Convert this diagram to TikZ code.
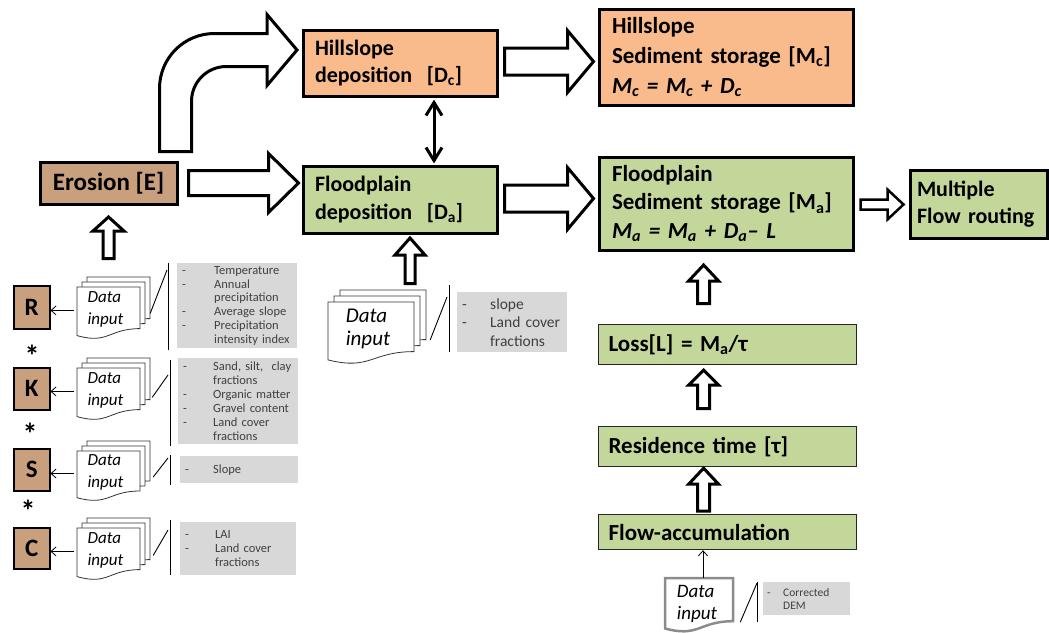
\documentclass[tikz,border=0pt]{standalone}
\usepackage{fontspec}
\setmainfont{Carlito}
\usetikzlibrary{arrows.meta,calc}

\definecolor{hillorange}{HTML}{F9BB8C}
\definecolor{floodgreen}{HTML}{C4D79B}
\definecolor{erobrown}{HTML}{C8A07E}
\definecolor{listgrey}{HTML}{D8D8D8}
\definecolor{docgrey}{HTML}{8C8C8C}

\newlength\listgap
\newcommand{\ditem}[1]{\makebox[\listgap][l]{-}\mbox{#1}}
\newcommand{\citem}[1]{\hspace*{\listgap}\mbox{#1}}

% document sheet: x, y (top left), width, height
\newcommand{\docshape}[5][]{%
  \filldraw[docline,#1] ({#2},{#3}) -- ({#2+#4},{#3}) -- ({#2+#4},{#3+0.8*#5})
    .. controls ({#2+0.5*#4},{#3+0.8*#5}) and ({#2+0.5*#4},{#3+1.107*#5}) .. ({#2},{#3+0.934*#5}) -- cycle;}

% three stacked sheets with "Data input": name, x, y, width, height, shift
\newcommand{\docstack}[7][\fontsize{17}{22}\selectfont]{%
  \docshape{#3+2*#7}{#4-2*#7}{#5}{#6}
  \docshape{#3+#7}{#4-#7}{#5}{#6}
  \docshape{#3}{#4}{#5}{#6}
  \node[inner sep=0pt, minimum width=#5pt, minimum height={0.9*#6}] (#2) at ({#3+#5/2},{#4+0.45*#6}) {};
  \node[doctext, font=\itshape#1] (#2text) at ($(#2)+(-3,-1)$) {Data\\input};}

% block arrows: start, tip, shaft half width, head half width, head length
\newcommand{\rblock}[6][]{%
  \draw[blockarr,#1] let \p1=(#2), \p2=(#3) in
    (\x1,\y1+#4) -- (\x2-#6,\y1+#4) -- (\x2-#6,\y1+#5) -- (\x2,\y1)
    -- (\x2-#6,\y1-#5) -- (\x2-#6,\y1-#4) -- (\x1,\y1-#4) -- cycle;}
\newcommand{\ublock}[6][]{%
  \draw[blockarr,#1] let \p1=(#2), \p2=(#3) in
    (\x1-#4,\y1) -- (\x1-#4,\y2-#6) -- (\x1-#5,\y2-#6) -- (\x1,\y2)
    -- (\x1+#5,\y2-#6) -- (\x1+#4,\y2-#6) -- (\x1+#4,\y1) -- cycle;}

\begin{document}
\begin{tikzpicture}[x=1pt,y=-1pt,
  mainbox/.style={draw, line width=3pt, anchor=north west, align=left, inner xsep=12pt,
    font=\bfseries\fontsize{23}{30}\selectfont},
  lowbox/.style={draw=black!85, line width=1.2pt, fill=floodgreen, anchor=north west, align=left,
    inner xsep=10pt, minimum width=258pt, text width=238pt, font=\bfseries\fontsize{23}{28}\selectfont},
  letterbox/.style={draw, line width=1.5pt, fill=erobrown, anchor=north west, minimum width=36pt,
    minimum height=42pt, inner sep=0pt, font=\bfseries\fontsize{25}{25}\selectfont},
  greylist/.style={fill=listgrey, anchor=north west, align=left, inner xsep=5pt, inner ysep=0pt, text=black!75},
  docline/.style={draw=black!80, line width=0.8pt, fill=white},
  doctext/.style={align=left, inner sep=0pt},
  blockarr/.style={draw, line width=3pt, fill=white, line join=miter, miter limit=20},
  thinarr/.style={-{Straight Barb[length=5pt,width=9pt]}, line width=0.8pt},
  dblline/.style={draw, line width=3pt, line join=miter},
  callout/.style={line width=0.9pt},
  star/.style={inner sep=0pt, font=\bfseries\fontsize{30}{30}\selectfont}
]
\useasboundingbox (0,0) rectangle (1049,632);

% main boxes
\node[mainbox, fill=hillorange, minimum width=194pt, minimum height=66pt, text width=170pt,
  font=\bfseries\fontsize{22}{27.5}\selectfont] (hdep) at (301.5,28.5) {Hillslope\\deposition\ \ [D\textsubscript{c}]};
\node[mainbox, fill=floodgreen, minimum width=194pt, minimum height=67pt, text width=170pt,
  font=\bfseries\fontsize{22}{27.5}\selectfont] (fdep) at (301.5,164.5) {Floodplain\\deposition\ \ [D\textsubscript{a}]};
\node[mainbox, fill=erobrown, minimum width=137pt, minimum height=42pt, align=center, inner xsep=0pt,
  font=\bfseries\fontsize{25}{25}\selectfont] (ero) at (38.5,160.5) {Erosion [E]};
\node[mainbox, fill=hillorange, minimum width=254pt, minimum height=96pt, text width=228pt, inner xsep=13pt]
  (hsto) at (597.5,7.5) {Hillslope\\Sediment storage [M\textsubscript{c}]\\\textit{M\textsubscript{c} = M\textsubscript{c} + D\textsubscript{c}}};
\node[mainbox, fill=floodgreen, minimum width=254pt, minimum height=93pt, text width=228pt, inner xsep=13pt,
  font=\bfseries\fontsize{23}{28.5}\selectfont] (fsto) at (597.5,155.5)
  {Floodplain\\Sediment storage [M\textsubscript{a}]\\\textit{M\textsubscript{a} = M\textsubscript{a} + D\textsubscript{a}– L}};
\node[mainbox, fill=floodgreen, minimum width=137pt, minimum height=68pt, text width=123pt, inner xsep=7pt,
  font=\bfseries\fontsize{22}{27}\selectfont] (mfr) at (908.5,168.5) {Multiple\\\mbox{Flow routing}};

% residence time chain
\node[lowbox, minimum height=40pt] (loss) at (598,324) {Loss[L] = M\textsubscript{a}/τ};
\node[lowbox, minimum height=40pt] (res) at (598,426) {Residence time [τ]};
\node[lowbox, minimum height=35pt] (flow) at (598,514) {Flow-accumulation};

% factor boxes
\node[letterbox, minimum height=43pt] (rbox) at (13,285) {R};
\node[letterbox] (kbox) at (13,367) {K};
\node[letterbox] (sbox) at (13,448) {S};
\node[letterbox, minimum height=41pt] (cbox) at (13,527) {C};
\node[star] (ast1) at (32,356) {*};
\node[star] (ast2) at (30,434) {*};
\node[star] (ast3) at (28,511) {*};

% data inputs
\docstack{rdoc}{77}{287}{63}{52}{5}
\docstack{kdoc}{77}{368}{63}{52}{5}
\docstack{sdoc}{77}{451}{63}{50}{5}
\docstack{cdoc}{77}{528}{63}{52}{5}
\docstack[\fontsize{21}{23}\selectfont]{ddoc}{328}{302}{86}{62}{6}
\docshape[draw=docgrey, line width=2.5pt]{665}{578}{68}{54}
\node[inner sep=0pt, minimum width=68pt, minimum height=48pt] (fdoc) at (699,602.3) {};
\node[doctext, font=\itshape\fontsize{19}{22}\selectfont] (fdoctext) at ($(fdoc)+(-2,2)$) {Data\\input};

% lists
\node[greylist, minimum width=120pt, minimum height=85pt, text width=110pt,
  font=\fontsize{12.5}{13.8}\selectfont\setlength\listgap{32pt}] (rlist) at (177,263)
  {\ditem{Temperature}\\\ditem{Annual}\\\citem{precipitation}\\\ditem{Average slope}\\\ditem{Precipitation}\\\citem{intensity index}};
\node[greylist, minimum width=120pt, minimum height=86pt, text width=110pt,
  font=\fontsize{12.5}{14}\selectfont\setlength\listgap{30pt}] (klist) at (178,358)
  {\ditem{Sand, silt,\ \ clay}\\\citem{fractions}\\\ditem{Organic matter}\\\ditem{Gravel content}\\\ditem{Land cover}\\\citem{fractions}};
\node[greylist, minimum width=118pt, minimum height=27pt, text width=108pt,
  font=\fontsize{12.5}{14}\selectfont\setlength\listgap{28pt}] (slist) at (180,456) {\ditem{Slope}};
\node[greylist, minimum width=116pt, minimum height=53pt, text width=106pt,
  font=\fontsize{12.5}{14}\selectfont\setlength\listgap{30pt}] (clist) at (180,522)
  {\ditem{LAI}\\\ditem{Land cover}\\\citem{fractions}};
\node[greylist, minimum width=110pt, minimum height=60pt, text width=100pt, inner xsep=5pt,
  font=\fontsize{15.5}{18.5}\selectfont\setlength\listgap{28pt}] (dlist) at (457,292)
  {\ditem{slope}\\\ditem{Land cover}\\\citem{fractions}};
\node[greylist, minimum width=87pt, minimum height=33pt, text width=79pt, inner xsep=4pt,
  font=\fontsize{11.5}{13}\selectfont\setlength\listgap{16pt}] (flist) at (763,582)
  {\ditem{Corrected}\\\citem{DEM}};

% callout brackets
\draw[callout] ($(rlist.north west)+(-9,0)$) -- ($(rlist.south west)+(-9,2)$);
\draw[callout] ($(rdoc.east)+(10,3)$) -- ($(rlist.north west)+(-10,7)$);
\draw[callout] ($(klist.north west)+(-8,2)$) -- ($(klist.south west)+(-8,2)$);
\draw[callout] ($(kdoc.east)+(12,6)$) -- ($(klist.north west)+(-10,17)$);
\draw[callout] ($(slist.north west)+(-10,-1)$) -- ($(slist.south west)+(-10,2)$);
\draw[callout] ($(sdoc.east)+(13,3.5)$) -- ($(slist.north west)+(-12,2)$);
\draw[callout] ($(clist.north west)+(-10,-2)$) -- ($(clist.south west)+(-10,0)$);
\draw[callout] ($(cdoc.east)+(13,4)$) -- ($(clist.north west)+(-12,8)$);
\draw[callout] ($(dlist.north west)+(-8,-7)$) -- ($(dlist.south west)+(-8,0)$);
\draw[callout] ($(ddoc.east)+(16,10)$) -- ($(dlist.north west)+(-10,5)$);
\draw[callout] ($(flist.north west)+(-6,0)$) -- ($(flist.south west)+(-6,7)$);
\draw[callout] ($(fdoc.east)+(7,20)$) -- ($(flist.north west)+(-6,1)$);

% thin arrows
\draw[thinarr] ($(rdoc.west)+(-3,0)$) -- (rdoc.west -| rbox.east);
\draw[thinarr] ($(kdoc.west)+(-3,0)$) -- (kdoc.west -| kbox.east);
\draw[thinarr] ($(sdoc.west)+(-3,0)$) -- (sdoc.west -| sbox.east);
\draw[thinarr] ($(cdoc.west)+(-3,0)$) -- (cdoc.west -| cbox.east);
\coordinate (fup) at ($(fdoc.north)+(4,0)$);
\draw[thinarr] (fup) -- (fup |- flow.south);

% two-way link between the deposition boxes
\coordinate (dtop) at ($(hdep.south west)+(132.5,5)$);
\coordinate (dbot) at ($(fdep.north west)+(132.5,-4)$);
\draw[dblline] (dtop) -- (dbot);
\draw[dblline] ($(dtop)+(-8,13)$) -- (dtop) -- ($(dtop)+(8,13)$);
\draw[dblline] ($(dbot)+(-8,-13)$) -- (dbot) -- ($(dbot)+(8,-13)$);

% block arrows
\draw[blockarr] (159.5,151.5) -- (159.5,88.5) .. controls (159.5,58) and (184,33.5) .. (214.5,33.5)
  -- (267,33.5) -- (267,14.5) -- (297,50) -- (267,85.5) -- (267,66.5) -- (226.5,66.5)
  .. controls (207,66.5) and (191.5,82) .. (191.5,101.5) -- (191.5,151.5) -- cycle;
\rblock{$(ero.east)+(10,0)$}{$(fdep.west)+(-3,0)$}{12.5}{29.5}{30}
\rblock{$(hdep.east)+(6,-1.5)$}{$(hsto.west)+(-4,0)$}{13.5}{31}{26}
\rblock{$(fdep.east)+(6,-1)$}{$(fsto.west)+(-4,0)$}{13.5}{31}{26}
\rblock[line width=2.5pt]{$(fsto.east)+(6,1)$}{$(mfr.west)+(-5,0)$}{5}{15}{16}
\ublock{$(ero.south)+(0,53)$}{$(ero.south)+(0,11.5)$}{5.5}{15.5}{14}
\ublock{$(fdep.south)+(10,49)$}{$(fdep.south)+(10,3.5)$}{5}{15}{17}
\ublock{$(loss.north)+(-24,-20.5)$}{$(fsto.south)+(-21.5,13.5)$}{6}{15}{16}
\ublock{$(res.north)+(-24,-17.5)$}{$(loss.south)+(-24,5)$}{6}{15}{15}
\ublock{$(flow.north)+(-24,-3)$}{$(res.south)+(-24,1)$}{6}{15}{16}
\end{tikzpicture}
\end{document}
